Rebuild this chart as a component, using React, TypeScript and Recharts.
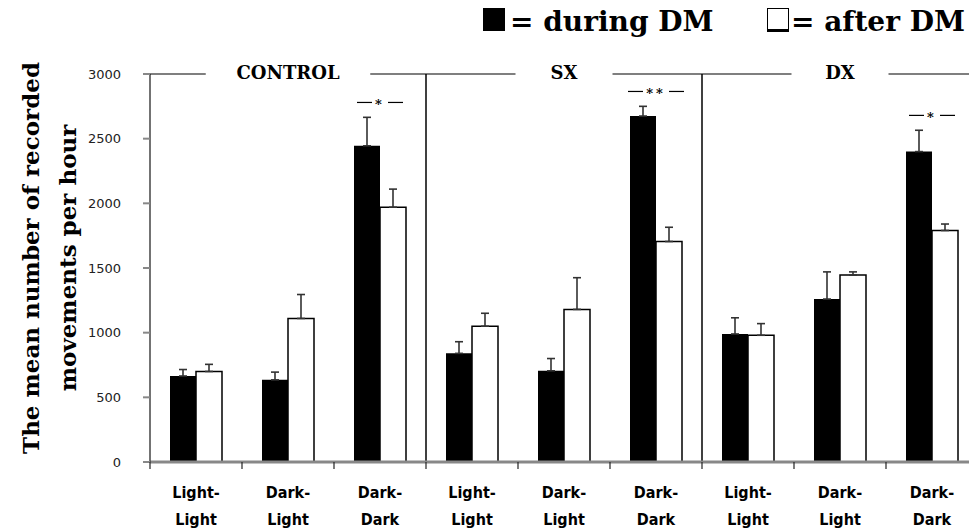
import {
  ComposedChart,
  Bar,
  ErrorBar,
  XAxis,
  YAxis,
  ReferenceLine,
  Scatter,
} from "recharts";

const groups = ["CONTROL", "SX", "DX"];
const conditions = ["Light-Light", "Dark-Light", "Dark-Dark"];

// mean movements per hour, one value per group x condition
const during = [665, 635, 2445, 840, 705, 2675, 990, 1260, 2400];
const duringErr = [50, 60, 220, 90, 95, 75, 125, 210, 165];
const after = [700, 1110, 1970, 1050, 1180, 1705, 980, 1445, 1790];
const afterErr = [55, 185, 140, 100, 245, 110, 90, 25, 50];
const significance = ["", "", "*", "", "", "**", "", "", "*"];

const yTicks = [0, 500, 1000, 1500, 2000, 2500, 3000];

const serif = "'DejaVu Serif', 'Liberation Serif', serif";
const narrow = "'DejaVu Sans', 'Liberation Sans', sans-serif";

const rows = during.map((v, i) => {
  const group = groups[Math.floor(i / 3)];
  const condition = conditions[i % 3];
  return {
    key: `${group}:${condition}`,
    group,
    condition,
    during: v,
    duringErr: [0, duringErr[i]],
    after: after[i],
    afterErr: [0, afterErr[i]],
    sig: significance[i],
    sigY: significance[i]
      ? Math.max(v + duringErr[i], after[i] + afterErr[i]) + 115
      : null,
  };
});

// first category of every group after the first one
const groupStarts = rows.filter((_, i) => i > 0 && i % 3 === 0).map((r) => r.key);

function ConditionTick(props: any) {
  const { x, y, payload } = props;
  const half = payload?.offset || 46;
  const cond = String(payload.value).split(":")[1] ?? "";
  const [a, b] = cond.split("-");
  const textProps = {
    textAnchor: "middle" as const,
    fontFamily: narrow,
    fontSize: 16,
    fontWeight: 600,
    fill: "#000",
    style: { fontStretch: "condensed" },
  };
  return (
    <g>
      <line x1={x - half} x2={x - half} y1={y} y2={y + 7} stroke="#222" strokeWidth={1.2} />
      <text x={x} y={y + 36} {...textProps}>
        {a}-
      </text>
      <text x={x} y={y + 63} {...textProps}>
        {b}
      </text>
    </g>
  );
}

function GroupTick(props: any) {
  const { x, y, payload } = props;
  const label = String(payload.value);
  const w = label.length * 13.5 + 70;
  return (
    <g>
      <rect x={x - w / 2} y={y - 8} width={w} height={16} fill="#fff" />
      <text x={x} y={y + 5} textAnchor="middle" fontFamily={serif} fontSize={18} fontWeight="bold" fill="#000">
        {label}
      </text>
    </g>
  );
}

function SigMark(props: any) {
  const { cx, cy, payload } = props;
  if (!payload?.sig || cx == null || cy == null) return <g />;
  const double = payload.sig.length > 1;
  const outer = double ? 28 : 23;
  const inner = double ? 13 : 8;
  return (
    <g>
      <line x1={cx - outer} x2={cx - inner} y1={cy} y2={cy} stroke="#000" strokeWidth={1.2} />
      <line x1={cx + inner} x2={cx + outer} y1={cy} y2={cy} stroke="#000" strokeWidth={1.2} />
      <text x={cx} y={cy + 7} textAnchor="middle" fontFamily={serif} fontSize={13} fontWeight="bold" fill="#000" letterSpacing={3}>
        {payload.sig}
      </text>
    </g>
  );
}

function YTitle(props: any) {
  const vb = props.viewBox ?? { x: 0, y: 74, width: 150, height: 388 };
  const cy = vb.y + vb.height / 2 - 10;
  const style = { fontFamily: serif, fontSize: 23, fontWeight: "bold" as const, fill: "#000" };
  return (
    <g>
      <text x={30} y={cy} transform={`rotate(-90, 30, ${cy})`} textAnchor="middle" dominantBaseline="central" style={style}>
        The mean number of recorded
      </text>
      <text x={67} y={cy} transform={`rotate(-90, 67, ${cy})`} textAnchor="middle" dominantBaseline="central" style={style}>
        movements per hour
      </text>
    </g>
  );
}

const legendText = {
  position: "absolute" as const,
  top: 8,
  fontFamily: serif,
  fontSize: 28,
  fontWeight: "bold" as const,
  lineHeight: "28px",
  whiteSpace: "nowrap" as const,
};

export default function App() {
  return (
    <div style={{ position: "absolute", left: 0, top: 0, width: 969, height: 529, overflow: "hidden", background: "#fff" }}>
      <div style={{ position: "absolute", left: 483, top: 8, width: 22, height: 23, background: "#000" }} />
      <div style={{ ...legendText, left: 510 }}>= during DM</div>
      <div style={{ position: "absolute", left: 767, top: 8, width: 20, height: 20, border: "1.5px solid #000", borderBottomWidth: 3, background: "#fff" }} />
      <div style={{ ...legendText, left: 791 }}>= after DM</div>

      <ComposedChart
        width={990}
        height={529}
        data={rows}
        margin={{ top: 44, right: 12, left: 0, bottom: 7 }}
        barSize={26}
        barGap={0}
      >
        <XAxis
          dataKey="key"
          type="category"
          height={60}
          interval={0}
          tickLine={false}
          tickSize={0}
          tickMargin={0}
          axisLine={{ stroke: "#888", strokeWidth: 3 }}
          tick={<ConditionTick />}
        />
        <YAxis
          domain={[0, 3000]}
          ticks={yTicks}
          width={150}
          tickSize={7}
          tickMargin={22}
          axisLine={{ stroke: "#444", strokeWidth: 1.5 }}
          tickLine={{ stroke: "#888", strokeWidth: 2 }}
          tick={{ fontFamily: narrow, fontSize: 13, fill: "#222" }}
          label={{ content: (p: any) => <YTitle {...p} /> }}
        />
        {groupStarts.map((k) => (
          <ReferenceLine key={k} x={k} position="start" stroke="#000" strokeWidth={1.5} />
        ))}
        <Bar dataKey="during" fill="#000" isAnimationActive={false}>
          <ErrorBar dataKey="duringErr" width={4} stroke="#333" strokeWidth={1.6} isAnimationActive={false} />
        </Bar>
        <Bar dataKey="after" fill="#fff" stroke="#000" strokeWidth={1.5} isAnimationActive={false}>
          <ErrorBar dataKey="afterErr" width={4} stroke="#333" strokeWidth={1.6} isAnimationActive={false} />
        </Bar>
        <Scatter dataKey="sigY" shape={<SigMark />} isAnimationActive={false} />
        <XAxis
          xAxisId="grp"
          dataKey="group"
          orientation="top"
          allowDuplicatedCategory={false}
          height={30}
          interval={0}
          tickLine={false}
          tickSize={0}
          tickMargin={0}
          axisLine={{ stroke: "#000", strokeWidth: 1.2 }}
          tick={<GroupTick />}
        />
      </ComposedChart>
    </div>
  );
}
